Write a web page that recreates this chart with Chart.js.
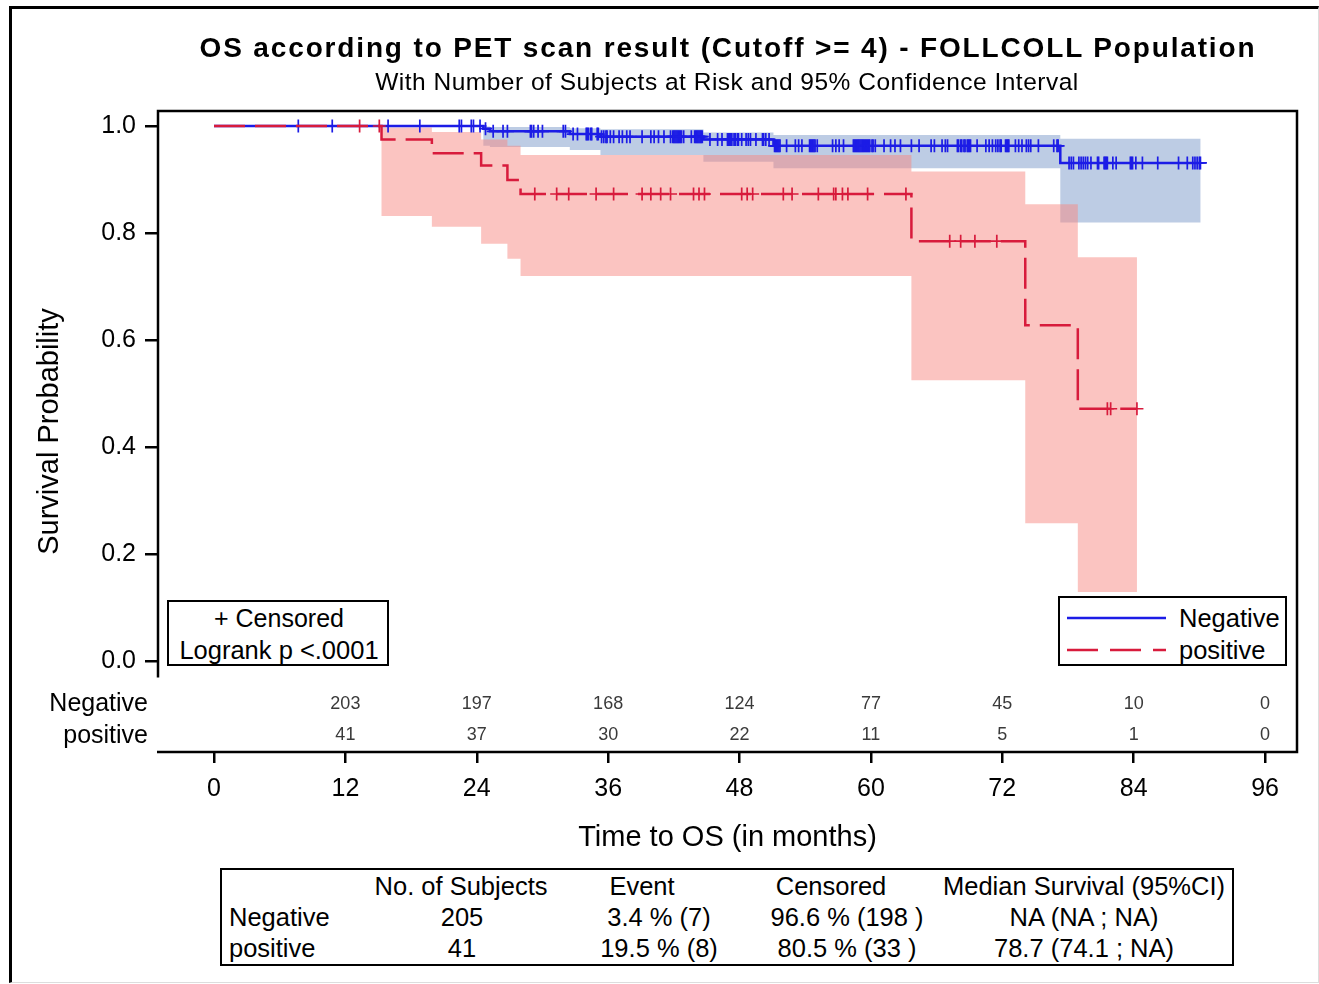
<!DOCTYPE html>
<html>
<head>
<meta charset="utf-8">
<title>OS according to PET scan result</title>
<script src="https://cdn.jsdelivr.net/npm/chart.js@4.4.1/dist/chart.umd.min.js"></script>
<style>
  html, body { margin: 0; padding: 0; background: #fff; }
  body { width: 1319px; height: 984px; position: relative; overflow: hidden;
         font-family: "Liberation Sans", Arial, sans-serif; color: #000; }
  #km { position: absolute; left: 0; top: 0; }
  .t { position: absolute; white-space: nowrap; }
  .c { transform: translateX(-50%); }
  .page { position: absolute; left: 9px; top: 6px; width: 1306px; height: 973px;
          border-top: 3px solid #000; border-left: 3px solid #000;
          border-right: 1px solid #ddd; border-bottom: 1px solid #ddd; }
  .box { position: absolute; border: 2.5px solid #000; background: #fff; }
</style>
</head>
<body>
<div class="page"></div>
<canvas id="km" width="1319" height="984"></canvas>

<div class="t c" style="left:728px; top:31px; font-size:28px; line-height:34px; font-weight:bold; letter-spacing:1.85px;">OS according to PET scan result (Cutoff &gt;= 4) - FOLLCOLL Population</div>
<div class="t c" style="left:727px; top:67px; font-size:24.5px; line-height:30px; letter-spacing:0.5px;">With Number of Subjects at Risk and 95% Confidence Interval</div>

<!-- censor / logrank inset -->
<div class="box" style="left:167px; top:600px; width:218px; height:62px;"></div>
<div class="t c" style="left:279px; top:603px; font-size:25px; line-height:30px;">+ Censored</div>
<div class="t c" style="left:279px; top:635px; font-size:25.5px; line-height:30px;">Logrank p &lt;.0001</div>

<!-- group legend -->
<div class="box" style="left:1058px; top:596px; width:225px; height:66px;"></div>
<svg class="t" style="left:1060px; top:600px;" width="120" height="64">
  <line x1="7" y1="18" x2="106" y2="18" stroke="#1c1ce6" stroke-width="2.5"/>
  <line x1="7" y1="50" x2="106" y2="50" stroke="#d81b3c" stroke-width="2.5" stroke-dasharray="31 12"/>
</svg>
<div class="t" style="left:1179px; top:603px; font-size:25.5px; line-height:30px;">Negative</div>
<div class="t" style="left:1179px; top:635px; font-size:25.5px; line-height:30px;">positive</div>

<!-- summary table -->
<div class="box" id="summary" style="left:220px; top:868px; width:1010px; height:94px;"></div>

<script>
// ---- data ----
const timeTicks = [0, 12, 24, 36, 48, 60, 72, 84, 96];
const survTicks = [0, 0.2, 0.4, 0.6, 0.8, 1.0];
const groups = ['Negative', 'positive'];

// numbers at risk (shown from month 12 on)
const atRiskTimes = [12, 24, 36, 48, 60, 72, 84, 96];
const atRiskNeg = [203, 197, 168, 124, 77, 45, 10, 0];
const atRiskPos = [41, 37, 30, 22, 11, 5, 1, 0];

// Negative: event times, KM estimate, 95% CI
const negEventT = [0, 24.6, 25.2, 32.5, 35.3, 44.7, 51.1, 77.3];
const negSurv   = [1, 0.995, 0.990, 0.985, 0.980, 0.975, 0.963, 0.931];
const negUpper  = [1, 0.999, 0.998, 0.996, 0.994, 0.988, 0.983, 0.976];
const negLower  = [1, 0.963, 0.961, 0.955, 0.946, 0.933, 0.921, 0.820];
const negLastT = 90.1;
const negCensT = [
  7.7, 10.8,
  15.9, 18.8, 22.4, 22.6, 23.5, 23.7,
  24.3, 24.8, 25.5, 26.4, 26.8, 28.9, 29.0, 29.2, 29.6, 30.0, 31.9, 32.1, 32.8, 33.2,
  34.0, 34.1, 34.2, 34.4, 34.5, 35.0, 35.1, 35.4, 35.6, 35.8, 35.9,
  36.2, 36.5, 37.0, 37.3, 37.7, 38.0, 39.1, 39.9, 40.2, 40.6, 41.1, 41.7, 41.9, 42.0,
  42.1, 42.2, 42.3, 42.4, 42.5, 42.6, 42.7, 42.9, 43.6, 43.9, 44.0, 44.1, 44.2, 44.3,
  44.4, 44.5, 44.6, 45.3, 46.0, 46.4, 46.9, 47.0, 47.1, 47.2, 47.3, 47.5, 47.6, 47.8, 47.9,
  48.2, 48.6, 48.8, 49.0, 49.5, 50.1, 50.2, 50.4, 50.7, 51.2, 51.3, 51.4, 51.5, 51.6,
  51.7, 52.3, 53.1, 53.4, 53.7, 54.4, 54.5, 54.6, 54.7, 54.8, 54.9, 55.1, 56.5, 56.8,
  57.1, 57.5, 58.4, 58.5, 58.6, 58.7, 58.8, 58.9, 59.0, 59.1, 59.2, 59.3, 59.4, 59.5,
  59.6, 59.7, 59.8, 59.9,
  60.1, 60.2, 60.4, 61.2, 61.8, 62.2, 62.7, 63.7, 64.4, 65.5, 65.8, 66.5, 66.8, 67.0,
  67.9, 68.0, 68.2, 68.3, 68.5, 68.6, 68.8, 68.9, 69.0, 69.1, 69.7, 70.5, 70.8, 71.1,
  71.4, 71.6, 71.8, 71.9,
  72.3, 72.4, 72.5, 72.6, 73.2, 73.5, 73.8, 74.2, 74.4, 74.6, 75.3, 76.7, 77.0, 77.1,
  78.1, 78.3, 78.5, 79.0, 79.2, 79.4, 79.6, 79.8, 80.1, 80.7, 80.8, 81.3, 81.4, 81.5,
  81.6, 82.1, 82.4, 83.7, 83.8, 83.9,
  84.2, 84.8, 86.2, 88.1, 88.9, 89.4, 89.6, 89.8, 90.0, 90.1
];

// positive
const posEventT = [0, 15.3, 19.9, 24.4, 26.8, 28.0, 63.7, 74.1, 78.9];
const posSurv   = [1, 0.975, 0.949, 0.926, 0.899, 0.873, 0.785, 0.628, 0.472];
const posUpper  = [1, 0.997, 0.989, 0.975, 0.963, 0.946, 0.915, 0.854, 0.755];
const posLower  = [1, 0.832, 0.812, 0.780, 0.752, 0.720, 0.525, 0.258, 0.130];
const posLastT = 84.3;
const posCensT = [
  13.3, 15.1, 29.3, 31.3, 32.4, 34.9,
  36.5, 39.1, 39.9, 40.8, 41.7, 43.8, 44.3, 44.8,
  48.2, 48.7, 49.2, 52.0, 52.8, 55.2, 56.6, 56.8, 57.4, 57.9, 59.7,
  63.2, 67.2, 68.2, 69.5, 71.5, 81.6, 81.9, 84.3
];

// summary table
const sumHeader = ['No. of Subjects', 'Event', 'Censored', 'Median Survival (95%CI)'];
const sumNeg = ['205', '3.4 % (7)', '96.6 % (198 )', 'NA (NA ; NA)'];
const sumPos = ['41', '19.5 % (8)', '80.5 % (33 )', '78.7 (74.1 ; NA)'];

const BLUE = '#1c1ce6';
const RED = '#d81b3c';
const FONT = '"Liberation Sans", Arial, sans-serif';

// ---- helpers ----
function stepPoints(times, values, lastT) {
  const pts = [];
  for (let i = 0; i < times.length; i++) {
    if (i > 0) pts.push({ x: times[i], y: values[i - 1] });
    pts.push({ x: times[i], y: values[i] });
  }
  pts.push({ x: lastT, y: values[values.length - 1] });
  return pts;
}

function bandShape(times, upper, lower, lastT) {
  return stepPoints(times, upper, lastT).concat(stepPoints(times, lower, lastT).reverse());
}

function survAt(times, values, t) {
  let s = values[0];
  for (let i = 0; i < times.length; i++) if (times[i] <= t) s = values[i];
  return s;
}

// ---- summary table (html text) ----
(function buildSummary() {
  const body = document.body;
  const add = (txt, x, y, center) => {
    const d = document.createElement('div');
    d.className = 't' + (center ? ' c' : '');
    d.style.cssText += `left:${x}px; top:${y - 15}px; font-size:25.5px; line-height:30px;`;
    d.textContent = txt;
    body.appendChild(d);
  };
  const headX = [461, 642, 831, 1084];
  const cellX = [462, 659, 847, 1084];
  sumHeader.forEach((h, i) => add(h, headX[i], 886, true));
  add(groups[0], 229, 917, false);
  add(groups[1], 229, 948, false);
  sumNeg.forEach((v, i) => add(v, cellX[i], 917, true));
  sumPos.forEach((v, i) => add(v, cellX[i], 948, true));
})();

// ---- frame + at-risk rows ----
const kmFrame = {
  id: 'kmFrame',
  afterDraw(chart) {
    const { ctx, chartArea: a, scales: { x, y } } = chart;
    ctx.save();
    ctx.strokeStyle = '#000';
    ctx.lineWidth = 2.5;
    ctx.beginPath();
    ctx.moveTo(a.left, y.getPixelForValue(-0.03));
    ctx.lineTo(a.left, a.top);
    ctx.lineTo(a.right, a.top);
    ctx.lineTo(a.right, a.bottom);
    ctx.lineTo(a.left - 1, a.bottom);
    ctx.stroke();

    ctx.textAlign = 'center';
    ctx.textBaseline = 'middle';
    ctx.fillStyle = '#3a3a3a';
    ctx.font = '18px ' + FONT;
    atRiskTimes.forEach((t, i) => {
      const px = x.getPixelForValue(t);
      ctx.fillText(String(atRiskNeg[i]), px, 704);
      ctx.fillText(String(atRiskPos[i]), px, 735);
    });
    ctx.textAlign = 'right';
    ctx.fillStyle = '#000';
    ctx.font = '25px ' + FONT;
    ctx.fillText(groups[0], 148, 704);
    ctx.fillText(groups[1], 148, 736);
    ctx.restore();
  }
};

Chart.defaults.font.family = FONT;
Chart.defaults.color = '#000';

new Chart(document.getElementById('km'), {
  type: 'line',
  data: {
    datasets: [
      {
        label: 'positive censored',
        data: posCensT.map(t => ({ x: t, y: survAt(posEventT, posSurv, t) })),
        showLine: false, pointStyle: 'cross', pointRadius: 6.5, pointBorderWidth: 1.7,
        borderColor: RED, backgroundColor: RED, order: 1
      },
      {
        label: groups[1],
        data: stepPoints(posEventT, posSurv, posLastT),
        borderColor: RED, borderWidth: 2.5, borderDash: [31, 10],
        pointRadius: 0, fill: false, order: 2
      },
      {
        label: 'Negative censored',
        data: negCensT.map(t => ({ x: t, y: survAt(negEventT, negSurv, t) })),
        showLine: false, pointStyle: 'cross', pointRadius: 6.5, pointBorderWidth: 1.7,
        borderColor: BLUE, backgroundColor: BLUE, order: 3
      },
      {
        label: groups[0],
        data: stepPoints(negEventT, negSurv, negLastT),
        borderColor: BLUE, borderWidth: 2.5,
        pointRadius: 0, fill: false, order: 4
      },
      {
        label: 'positive 95% CI',
        data: bandShape(posEventT, posUpper, posLower, posLastT),
        borderWidth: 0, borderColor: 'rgba(0,0,0,0)', pointRadius: 0,
        fill: 'shape', backgroundColor: 'rgba(247,137,131,0.5)', order: 5
      },
      {
        label: 'Negative 95% CI',
        data: bandShape(negEventT, negUpper, negLower, negLastT),
        borderWidth: 0, borderColor: 'rgba(0,0,0,0)', pointRadius: 0,
        fill: 'shape', backgroundColor: 'rgba(123,153,201,0.5)', order: 6
      }
    ]
  },
  options: {
    responsive: false,
    animation: false,
    layout: { padding: { left: 0, right: 22, top: 111, bottom: 0 } },
    plugins: { legend: { display: false }, tooltip: { enabled: false } },
    scales: {
      x: {
        type: 'linear', min: -5.115, max: 98.92,
        afterBuildTicks: s => { s.ticks = timeTicks.map(v => ({ value: v })); },
        afterFit: s => { s.height = 232; },
        ticks: { autoSkip: false, maxRotation: 0, padding: 11, font: { size: 25 }, color: '#000' },
        grid: { drawOnChartArea: false, drawTicks: true, tickLength: 11, color: '#000', lineWidth: 2.5 },
        border: { display: false },
        title: { display: true, text: 'Time to OS (in months)', font: { size: 29 }, padding: { top: 0, bottom: 129 } }
      },
      y: {
        type: 'linear', min: -0.169, max: 1.028,
        afterBuildTicks: s => { s.ticks = survTicks.map(v => ({ value: v })); },
        afterFit: s => { s.width = 158; },
        ticks: { padding: 9, font: { size: 25 }, color: '#000', callback: v => v.toFixed(1) },
        grid: { drawOnChartArea: false, drawTicks: true, tickLength: 13, color: '#000', lineWidth: 2.5 },
        border: { display: false },
        title: { display: true, text: 'Survival Probability', font: { size: 29 }, padding: { top: 33, bottom: 0 } }
      }
    }
  },
  plugins: [kmFrame]
});
</script>
</body>
</html>
